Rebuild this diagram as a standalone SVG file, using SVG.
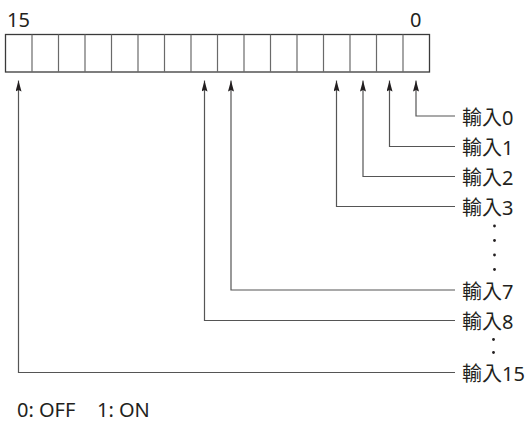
<svg xmlns="http://www.w3.org/2000/svg" width="529" height="421" viewBox="0 0 529 421">
  <style>
    text { font-family: "Noto Sans", "Noto Sans CJK TC", "Open Sans", sans-serif; font-size: 20px; fill: #231f20; }
    .frame { fill: #ffffff; stroke: #3a3a3a; stroke-width: 1.3; }
    .div { stroke: #6a6a6a; stroke-width: 1.2; }
    .wire { fill: none; stroke: #555555; stroke-width: 1.2; }
    .dot { fill: #231f20; }
  </style>
  <defs>
    <!-- upward arrowhead, tip at the reference point -->
    <marker id="arrow" viewBox="0 0 6 12" refX="3" refY="0" markerWidth="6" markerHeight="12" markerUnits="userSpaceOnUse" orient="0">
      <path d="M3 0 L6 11 L3 9.5 L0 11 Z" fill="#231f20"/>
    </marker>
  </defs>

  <!-- 16-bit register -->
  <g id="register">
    <text x="7" y="26.5">15</text>
    <text x="410" y="26.5">0</text>
    <rect class="frame" x="5.5" y="34.5" width="424" height="37.5"/>
    <g class="div">
      <line x1="32" y1="34.5" x2="32" y2="72"/>
      <line x1="58.5" y1="34.5" x2="58.5" y2="72"/>
      <line x1="85" y1="34.5" x2="85" y2="72"/>
      <line x1="111.5" y1="34.5" x2="111.5" y2="72"/>
      <line x1="138" y1="34.5" x2="138" y2="72"/>
      <line x1="164.5" y1="34.5" x2="164.5" y2="72"/>
      <line x1="191" y1="34.5" x2="191" y2="72"/>
      <line x1="217.5" y1="34.5" x2="217.5" y2="72"/>
      <line x1="244" y1="34.5" x2="244" y2="72"/>
      <line x1="270.5" y1="34.5" x2="270.5" y2="72"/>
      <line x1="297" y1="34.5" x2="297" y2="72"/>
      <line x1="323.5" y1="34.5" x2="323.5" y2="72"/>
      <line x1="350" y1="34.5" x2="350" y2="72"/>
      <line x1="376.5" y1="34.5" x2="376.5" y2="72"/>
      <line x1="403" y1="34.5" x2="403" y2="72"/>
    </g>
  </g>

  <!-- input lines into the bits -->
  <g id="connectors">
    <path class="wire" marker-start="url(#arrow)" d="M416 80.5 V116 H455"/>
    <path class="wire" marker-start="url(#arrow)" d="M389.5 80.5 V146.5 H455"/>
    <path class="wire" marker-start="url(#arrow)" d="M363 80.5 V176.5 H455"/>
    <path class="wire" marker-start="url(#arrow)" d="M336.5 80.5 V206.5 H455"/>
    <path class="wire" marker-start="url(#arrow)" d="M231 80.5 V290 H455"/>
    <path class="wire" marker-start="url(#arrow)" d="M204.5 80.5 V320.5 H455"/>
    <path class="wire" marker-start="url(#arrow)" d="M18.5 80.5 V372.5 H455"/>
  </g>

  <g id="in0"><text x="462" y="124.5">輸入0</text></g>
  <g id="in1"><text x="462" y="155">輸入1</text></g>
  <g id="in2"><text x="462" y="185">輸入2</text></g>
  <g id="in3"><text x="462" y="215">輸入3</text></g>
  <g id="gap1">
    <circle class="dot" cx="494.5" cy="226" r="1.4"/>
    <circle class="dot" cx="494.5" cy="240.5" r="1.4"/>
    <circle class="dot" cx="494.5" cy="255" r="1.4"/>
    <circle class="dot" cx="494.5" cy="269.5" r="1.4"/>
  </g>
  <g id="in7"><text x="462" y="298.5">輸入7</text></g>
  <g id="in8"><text x="462" y="329">輸入8</text></g>
  <g id="gap2">
    <circle class="dot" cx="493.5" cy="339.5" r="1.4"/>
    <circle class="dot" cx="493.5" cy="352.5" r="1.4"/>
  </g>
  <g id="in15"><text x="462" y="381">輸入15</text></g>

  <g id="legend">
    <text x="17" y="416.5">0: OFF</text>
    <text x="97" y="416.5">1: ON</text>
  </g>
</svg>
